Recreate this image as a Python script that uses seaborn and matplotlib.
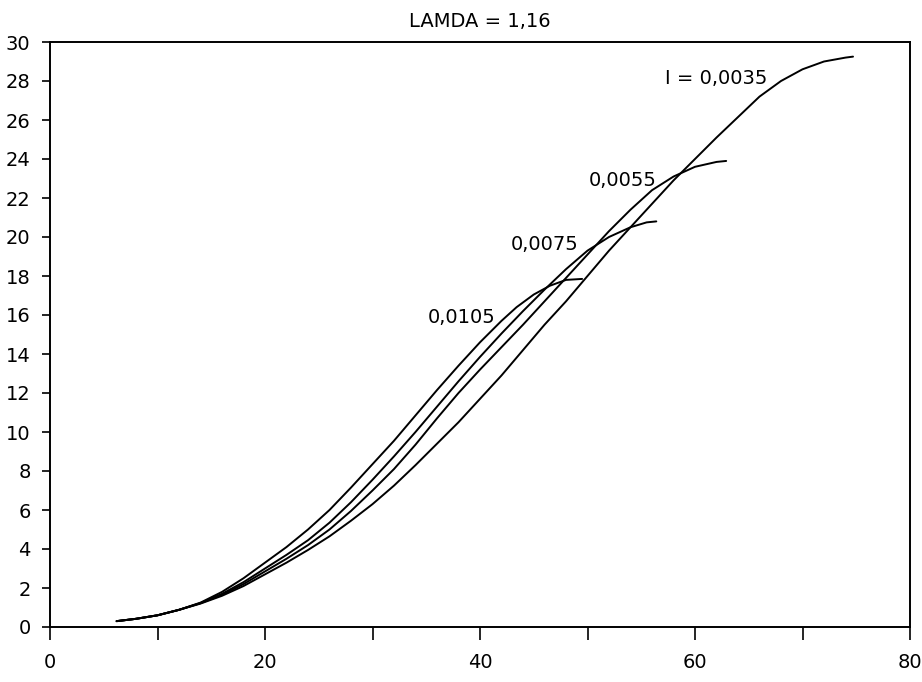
import numpy as np
import pandas as pd
import matplotlib
matplotlib.use("Agg")
import matplotlib.pyplot as plt
import seaborn as sns

# Data
x_0035 = [6.2, 8, 10, 12, 14, 16, 18, 20, 22, 24, 26, 28, 30, 32, 34, 36, 38, 40,
          42, 44, 46, 48, 50, 52, 54, 56, 58, 60, 62, 64, 66, 68, 70, 72, 74, 74.7]
y_0035 = [0.3, 0.42, 0.6, 0.88, 1.2, 1.6, 2.1, 2.7, 3.3, 3.95, 4.65, 5.45, 6.3, 7.25, 8.3, 9.4, 10.5, 11.7,
          12.9, 14.2, 15.5, 16.7, 18.0, 19.3, 20.5, 21.7, 22.9, 24.0, 25.1, 26.15, 27.2, 28.0, 28.6, 29.0, 29.2, 29.25]

x_0055 = [6.2, 8, 10, 12, 14, 16, 18, 20, 22, 24, 26, 28, 30, 32, 34, 36, 38, 40,
          42, 44, 46, 48, 50, 52, 54, 56, 58, 60, 62, 62.9]
y_0055 = [0.3, 0.42, 0.6, 0.88, 1.22, 1.65, 2.2, 2.85, 3.5, 4.2, 5.0, 5.95, 7.0, 8.1, 9.35, 10.7, 12.0, 13.2,
          14.35, 15.5, 16.7, 17.9, 19.1, 20.3, 21.4, 22.4, 23.1, 23.6, 23.85, 23.9]

x_0075 = [6.2, 8, 10, 12, 14, 16, 18, 20, 22, 24, 26, 28, 30, 32, 34, 36, 38, 40,
          42, 44, 46, 48, 50, 52, 54, 55.5, 56.4]
y_0075 = [0.3, 0.42, 0.6, 0.88, 1.23, 1.7, 2.3, 3.0, 3.7, 4.45, 5.35, 6.4, 7.55, 8.75, 10.0, 11.3, 12.6, 13.85,
          15.05, 16.2, 17.3, 18.35, 19.3, 20.0, 20.5, 20.75, 20.8]

x_0105 = [6.2, 8, 10, 12, 14, 16, 18, 20, 22, 24, 26, 28, 30, 32, 34, 36, 38, 40,
          42, 43.4, 45, 46.5, 48, 49.5]
y_0105 = [0.3, 0.42, 0.6, 0.88, 1.25, 1.8, 2.5, 3.3, 4.1, 5.0, 6.0, 7.15, 8.35, 9.55, 10.85, 12.15, 13.4, 14.6,
          15.7, 16.4, 17.05, 17.5, 17.8, 17.85]

series_names = ["0,0035", "0,0055", "0,0075", "0,0105"]
label_texts = ["I = 0,0035", "0,0055", "0,0075", "0,0105"]
label_x = [62.0, 53.3, 46.0, 38.3]
label_y = [28.15, 22.9, 19.6, 15.85]

x_ticks = [0, 20, 40, 60, 80]
x_minor = [10, 30, 50, 70]
y_ticks = list(range(0, 31, 2))
title = "LAMDA = 1,16"

frames = []
for name, xs, ys in zip(series_names,
                        [x_0035, x_0055, x_0075, x_0105],
                        [y_0035, y_0055, y_0075, y_0105]):
    frames.append(pd.DataFrame({"x": xs, "y": ys, "I": name}))
df = pd.concat(frames, ignore_index=True)

sns.set_style("ticks")
plt.rcParams["font.family"] = ["DejaVu Sans"]

fig = plt.figure(figsize=(9.22, 6.82), dpi=100)
ax = fig.add_axes([50 / 922, 1 - 627 / 682, 860 / 922, 585 / 682])

sns.lineplot(data=df, x="x", y="y", hue="I", units="I", estimator=None,
             palette=["black"] * 4, legend=False, linewidth=1.4,
             sort=False, ax=ax)

ax.set_xlim(0, 80)
ax.set_ylim(0, 30)
ax.set_xticks(x_ticks)
ax.set_xticks(x_minor, minor=True)
ax.set_yticks(y_ticks)
ax.set_xlabel("")
ax.set_ylabel("")
ax.tick_params(axis="x", which="both", direction="out", length=9, width=1.2,
               pad=10, labelsize=14, colors="black")
ax.tick_params(axis="y", direction="out", length=6, width=1.2, pad=8,
               labelsize=14, colors="black")
for sp in ax.spines.values():
    sp.set_visible(True)
    sp.set_linewidth(1.4)
    sp.set_color("black")

for t, lx, ly in zip(label_texts, label_x, label_y):
    ax.text(lx, ly, t, ha="center", va="center", fontsize=14, color="black")

ax.set_title(title, fontsize=14, pad=11, color="black")

fig.savefig("out.png", dpi=100)
